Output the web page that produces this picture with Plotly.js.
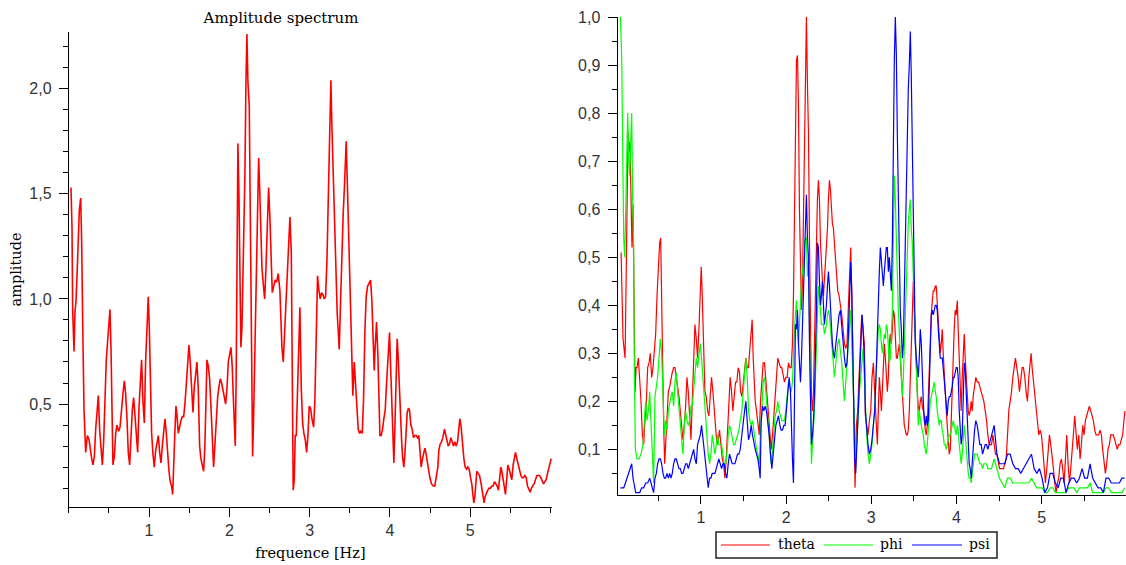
<!DOCTYPE html>
<html>
<head>
<meta charset="utf-8">
<script src="https://cdn.plot.ly/plotly-3.0.1.min.js"></script>
<style>html,body{margin:0;padding:0;background:#fff;}#chart{width:1126px;height:565px;}</style>
</head>
<body>
<div id="chart"></div>
<script>
// ---------- DATA (frequency [Hz], amplitude) ----------
const leftTitle = 'Amplitude spectrum';
const leftXLabel = 'frequence [Hz]';
const leftYLabel = 'amplitude';
const seriesNames = ['theta', 'phi', 'psi'];
const seriesColors = ['#ff0000', '#00ff00', '#0000ff'];
const xTicks = [1, 2, 3, 4, 5];
const leftYTicks = [0.5, 1.0, 1.5, 2.0];
const rightYTicks = [0.1, 0.2, 0.3, 0.4, 0.5, 0.6, 0.7, 0.8, 0.9, 1.0];

const leftSpectrum = [
[0.027,1.53],[0.040,1.34],[0.048,0.95],[0.065,0.75],[0.077,0.94],[0.090,0.99],[0.106,1.15],[0.119,1.29],[0.131,1.42],[0.148,1.48],
[0.160,1.28],[0.173,0.89],[0.189,0.48],[0.210,0.27],[0.231,0.35],[0.252,0.33],[0.268,0.28],[0.285,0.24],[0.301,0.21],[0.318,0.25],
[0.335,0.38],[0.351,0.48],[0.368,0.54],[0.384,0.38],[0.401,0.27],[0.418,0.21],[0.434,0.32],[0.451,0.54],[0.467,0.71],[0.484,0.80],
[0.501,0.89],[0.513,0.95],[0.526,0.76],[0.538,0.39],[0.550,0.21],[0.567,0.25],[0.584,0.36],[0.600,0.40],[0.621,0.37],[0.638,0.39],
[0.654,0.47],[0.675,0.55],[0.692,0.61],[0.708,0.55],[0.725,0.43],[0.741,0.27],[0.758,0.21],[0.775,0.35],[0.791,0.47],[0.808,0.53],
[0.824,0.45],[0.841,0.33],[0.858,0.27],[0.874,0.48],[0.891,0.63],[0.907,0.71],[0.924,0.51],[0.941,0.41],[0.957,0.70],[0.974,0.91],
[0.990,1.01],[1.003,0.86],[1.015,0.57],[1.032,0.36],[1.049,0.26],[1.065,0.20],[1.082,0.28],[1.098,0.32],[1.115,0.35],[1.132,0.27],
[1.148,0.22],[1.165,0.30],[1.181,0.36],[1.198,0.43],[1.215,0.36],[1.231,0.24],[1.248,0.18],[1.264,0.13],[1.281,0.11],[1.294,0.07],
[1.306,0.17],[1.323,0.38],[1.335,0.49],[1.347,0.45],[1.364,0.36],[1.381,0.40],[1.397,0.42],[1.414,0.44],[1.431,0.44],[1.447,0.50],
[1.464,0.61],[1.480,0.72],[1.497,0.78],[1.513,0.70],[1.530,0.54],[1.547,0.46],[1.563,0.58],[1.580,0.66],[1.597,0.70],[1.613,0.57],
[1.630,0.30],[1.646,0.24],[1.663,0.20],[1.680,0.18],[1.696,0.31],[1.709,0.58],[1.721,0.71],[1.738,0.68],[1.754,0.62],[1.771,0.49],
[1.787,0.30],[1.804,0.20],[1.821,0.31],[1.837,0.43],[1.854,0.53],[1.870,0.58],[1.887,0.62],[1.904,0.60],[1.920,0.57],[1.937,0.53],
[1.954,0.50],[1.970,0.57],[1.987,0.70],[2.020,0.77],[2.036,0.68],[2.049,0.54],[2.061,0.38],[2.074,0.30],[2.086,0.66],[2.095,1.38],
[2.107,1.74],[2.120,1.49],[2.132,1.01],[2.144,0.77],[2.157,0.86],[2.169,1.07],[2.182,1.27],[2.194,1.59],[2.207,2.03],[2.219,2.26],
[2.232,2.03],[2.248,1.92],[2.265,1.25],[2.278,0.58],[2.290,0.25],[2.302,0.43],[2.315,0.68],[2.331,1.08],[2.348,1.46],[2.365,1.67],
[2.377,1.54],[2.390,1.29],[2.406,1.15],[2.423,1.07],[2.440,1.00],[2.456,1.14],[2.473,1.39],[2.489,1.53],[2.506,1.38],[2.523,1.15],
[2.535,1.03],[2.552,1.06],[2.572,1.09],[2.589,1.08],[2.609,1.12],[2.630,1.04],[2.643,0.91],[2.655,0.77],[2.672,0.70],[2.689,0.84],
[2.705,0.96],[2.722,1.12],[2.739,1.31],[2.755,1.39],[2.772,1.22],[2.784,0.43],[2.796,0.09],[2.809,0.14],[2.821,0.35],[2.834,0.35],
[2.846,0.54],[2.863,0.82],[2.879,0.96],[2.896,0.58],[2.913,0.41],[2.929,0.36],[2.946,0.33],[2.963,0.27],[2.979,0.35],[2.996,0.49],
[3.012,0.48],[3.029,0.43],[3.050,0.39],[3.066,0.52],[3.083,0.92],[3.099,1.11],[3.116,1.04],[3.133,1.00],[3.149,1.03],[3.166,1.02],
[3.183,1.00],[3.199,1.01],[3.216,1.18],[3.232,1.50],[3.249,1.86],[3.265,2.04],[3.278,1.82],[3.294,1.60],[3.311,1.33],[3.328,1.03],
[3.344,0.93],[3.361,0.82],[3.369,0.76],[3.386,0.99],[3.402,1.21],[3.419,1.41],[3.436,1.55],[3.448,1.67],[3.456,1.75],[3.473,1.51],
[3.489,1.30],[3.506,0.99],[3.523,0.74],[3.539,0.54],[3.556,0.70],[3.573,0.60],[3.589,0.46],[3.606,0.38],[3.623,0.36],[3.639,0.37],
[3.656,0.36],[3.672,0.52],[3.689,0.85],[3.705,1.01],[3.722,1.06],[3.743,1.08],[3.760,1.09],[3.776,0.99],[3.793,0.77],[3.805,0.66],
[3.817,0.77],[3.834,0.89],[3.851,0.73],[3.863,0.49],[3.876,0.35],[3.892,0.35],[3.909,0.38],[3.925,0.43],[3.942,0.47],[3.959,0.60],
[3.979,0.72],[3.996,0.84],[4.004,0.74],[4.021,0.52],[4.034,0.33],[4.050,0.22],[4.062,0.38],[4.079,0.64],[4.091,0.81],[4.103,0.73],
[4.116,0.59],[4.133,0.43],[4.146,0.33],[4.158,0.25],[4.174,0.20],[4.187,0.26],[4.203,0.39],[4.216,0.46],[4.232,0.48],[4.245,0.47],
[4.262,0.40],[4.278,0.38],[4.295,0.34],[4.311,0.35],[4.328,0.35],[4.345,0.34],[4.361,0.35],[4.378,0.25],[4.390,0.20],[4.407,0.24],
[4.419,0.27],[4.436,0.29],[4.448,0.27],[4.465,0.22],[4.481,0.18],[4.498,0.15],[4.519,0.12],[4.540,0.11],[4.560,0.11],[4.581,0.15],
[4.598,0.20],[4.610,0.28],[4.627,0.31],[4.643,0.32],[4.660,0.34],[4.681,0.38],[4.694,0.36],[4.710,0.34],[4.727,0.30],[4.743,0.31],
[4.760,0.34],[4.776,0.32],[4.793,0.30],[4.810,0.32],[4.826,0.30],[4.843,0.32],[4.859,0.39],[4.872,0.43],[4.888,0.39],[4.905,0.29],
[4.922,0.24],[4.938,0.20],[4.955,0.19],[4.971,0.20],[4.988,0.19],[5.005,0.15],[5.021,0.12],[5.034,0.07],[5.046,0.03],[5.059,0.06],
[5.071,0.12],[5.083,0.18],[5.100,0.17],[5.117,0.16],[5.133,0.13],[5.150,0.08],[5.162,0.04],[5.174,0.03],[5.187,0.06],[5.204,0.08],
[5.220,0.09],[5.237,0.10],[5.254,0.10],[5.270,0.11],[5.287,0.11],[5.304,0.13],[5.320,0.12],[5.337,0.11],[5.353,0.09],[5.370,0.14],
[5.382,0.20],[5.395,0.18],[5.407,0.14],[5.424,0.11],[5.440,0.07],[5.457,0.14],[5.470,0.21],[5.486,0.19],[5.503,0.16],[5.519,0.14],
[5.536,0.21],[5.553,0.25],[5.565,0.27],[5.582,0.24],[5.598,0.21],[5.615,0.18],[5.632,0.16],[5.648,0.15],[5.665,0.15],[5.682,0.16],
[5.698,0.15],[5.715,0.11],[5.731,0.09],[5.748,0.08],[5.764,0.10],[5.781,0.11],[5.797,0.12],[5.814,0.14],[5.831,0.16],[5.847,0.16],
[5.864,0.16],[5.881,0.15],[5.897,0.13],[5.914,0.12],[5.931,0.13],[5.947,0.14],[5.964,0.17],[5.980,0.20],[5.997,0.23],[6.010,0.24]
];

const thetaSpectrum = [
[0.062,0.51],[0.073,0.40],[0.085,0.33],[0.109,0.29],[0.120,0.45],[0.132,0.67],[0.144,0.76],[0.156,0.72],[0.167,0.74],[0.179,0.62],
[0.190,0.52],[0.202,0.61],[0.214,0.31],[0.226,0.22],[0.238,0.27],[0.249,0.27],[0.265,0.29],[0.281,0.25],[0.296,0.20],[0.312,0.13],
[0.327,0.11],[0.343,0.16],[0.359,0.20],[0.374,0.27],[0.390,0.28],[0.405,0.30],[0.421,0.25],[0.437,0.27],[0.452,0.31],[0.468,0.34],
[0.484,0.42],[0.499,0.49],[0.515,0.53],[0.527,0.54],[0.538,0.39],[0.550,0.27],[0.562,0.15],[0.574,0.07],[0.585,0.11],[0.601,0.18],
[0.617,0.22],[0.632,0.23],[0.648,0.25],[0.663,0.26],[0.679,0.27],[0.695,0.27],[0.710,0.25],[0.726,0.23],[0.742,0.21],[0.757,0.18],
[0.773,0.14],[0.788,0.12],[0.804,0.15],[0.820,0.19],[0.835,0.25],[0.851,0.22],[0.867,0.17],[0.882,0.12],[0.898,0.20],[0.914,0.29],
[0.929,0.36],[0.945,0.33],[0.960,0.29],[0.976,0.35],[0.992,0.45],[1.003,0.48],[1.015,0.42],[1.031,0.29],[1.046,0.22],[1.062,0.21],
[1.078,0.18],[1.093,0.17],[1.109,0.21],[1.124,0.25],[1.140,0.22],[1.156,0.18],[1.171,0.13],[1.187,0.11],[1.203,0.12],[1.218,0.14],
[1.234,0.11],[1.250,0.08],[1.265,0.07],[1.281,0.04],[1.296,0.08],[1.312,0.13],[1.328,0.20],[1.343,0.25],[1.359,0.22],[1.374,0.18],
[1.390,0.21],[1.406,0.24],[1.421,0.24],[1.437,0.27],[1.453,0.26],[1.465,0.22],[1.480,0.21],[1.496,0.24],[1.512,0.27],[1.527,0.29],
[1.543,0.27],[1.558,0.27],[1.574,0.31],[1.590,0.34],[1.601,0.37],[1.613,0.29],[1.625,0.22],[1.637,0.20],[1.652,0.18],[1.668,0.16],
[1.684,0.13],[1.699,0.20],[1.715,0.25],[1.730,0.28],[1.746,0.28],[1.762,0.24],[1.777,0.20],[1.793,0.16],[1.809,0.13],[1.824,0.10],
[1.840,0.13],[1.855,0.17],[1.871,0.21],[1.887,0.27],[1.902,0.29],[1.918,0.28],[1.934,0.27],[1.949,0.27],[1.965,0.25],[1.980,0.24],
[1.996,0.25],[2.012,0.25],[2.027,0.28],[2.043,0.27],[2.059,0.27],[2.074,0.32],[2.086,0.42],[2.098,0.59],[2.109,0.81],[2.121,0.91],
[2.133,0.92],[2.145,0.81],[2.156,0.60],[2.168,0.46],[2.180,0.39],[2.192,0.45],[2.203,0.60],[2.215,0.68],[2.227,0.89],[2.238,1.00],
[2.250,0.86],[2.262,0.76],[2.274,0.53],[2.285,0.32],[2.297,0.21],[2.309,0.18],[2.321,0.22],[2.332,0.32],[2.344,0.43],[2.356,0.53],
[2.367,0.62],[2.379,0.66],[2.391,0.62],[2.403,0.53],[2.414,0.47],[2.426,0.45],[2.438,0.42],[2.449,0.45],[2.461,0.49],[2.473,0.52],
[2.485,0.56],[2.496,0.62],[2.508,0.66],[2.520,0.64],[2.532,0.60],[2.543,0.57],[2.555,0.56],[2.567,0.52],[2.578,0.49],[2.590,0.47],
[2.606,0.43],[2.621,0.42],[2.637,0.40],[2.653,0.38],[2.668,0.35],[2.684,0.32],[2.700,0.31],[2.715,0.32],[2.731,0.40],[2.746,0.46],
[2.758,0.52],[2.770,0.43],[2.782,0.32],[2.793,0.18],[2.801,0.11],[2.809,0.02],[2.825,0.15],[2.840,0.18],[2.856,0.25],[2.872,0.32],
[2.887,0.38],[2.903,0.35],[2.918,0.32],[2.930,0.17],[2.946,0.15],[2.961,0.13],[2.977,0.16],[2.993,0.18],[3.008,0.25],[3.024,0.28],
[3.039,0.22],[3.055,0.15],[3.071,0.11],[3.082,0.18],[3.094,0.25],[3.106,0.22],[3.118,0.18],[3.129,0.22],[3.141,0.28],[3.153,0.32],
[3.165,0.29],[3.176,0.25],[3.188,0.22],[3.200,0.25],[3.211,0.32],[3.223,0.34],[3.235,0.32],[3.247,0.35],[3.258,0.39],[3.270,0.38],
[3.282,0.32],[3.294,0.29],[3.305,0.29],[3.317,0.31],[3.329,0.32],[3.340,0.29],[3.352,0.25],[3.364,0.22],[3.376,0.18],[3.387,0.15],
[3.399,0.14],[3.411,0.13],[3.422,0.13],[3.434,0.14],[3.446,0.18],[3.458,0.25],[3.469,0.32],[3.481,0.39],[3.493,0.45],[3.505,0.39],
[3.516,0.32],[3.528,0.27],[3.540,0.22],[3.551,0.19],[3.563,0.18],[3.575,0.20],[3.587,0.21],[3.598,0.19],[3.610,0.18],[3.622,0.17],
[3.633,0.14],[3.645,0.13],[3.657,0.15],[3.669,0.22],[3.680,0.29],[3.692,0.36],[3.704,0.38],[3.716,0.41],[3.727,0.43],[3.739,0.43],
[3.751,0.44],[3.762,0.44],[3.774,0.40],[3.786,0.36],[3.798,0.32],[3.809,0.30],[3.821,0.32],[3.833,0.35],[3.844,0.30],[3.856,0.25],
[3.868,0.22],[3.880,0.18],[3.891,0.15],[3.903,0.11],[3.915,0.09],[3.927,0.10],[3.938,0.15],[3.950,0.22],[3.962,0.29],[3.973,0.35],
[3.985,0.39],[3.997,0.38],[4.009,0.41],[4.020,0.35],[4.032,0.29],[4.044,0.22],[4.055,0.18],[4.067,0.25],[4.079,0.30],[4.091,0.34],
[4.102,0.29],[4.114,0.25],[4.126,0.21],[4.138,0.18],[4.149,0.17],[4.161,0.18],[4.173,0.20],[4.184,0.18],[4.196,0.21],[4.212,0.23],
[4.227,0.25],[4.243,0.24],[4.259,0.24],[4.274,0.23],[4.290,0.22],[4.306,0.21],[4.321,0.20],[4.337,0.18],[4.353,0.16],[4.368,0.13],
[4.384,0.11],[4.411,0.11],[4.427,0.13],[4.442,0.11],[4.458,0.09],[4.474,0.09],[4.489,0.07],[4.505,0.06],[4.520,0.06],[4.536,0.06],
[4.552,0.06],[4.567,0.07],[4.583,0.08],[4.599,0.13],[4.614,0.18],[4.630,0.20],[4.646,0.22],[4.661,0.25],[4.677,0.27],[4.692,0.29],
[4.708,0.27],[4.724,0.25],[4.739,0.22],[4.755,0.25],[4.771,0.27],[4.786,0.27],[4.802,0.25],[4.817,0.22],[4.833,0.20],[4.849,0.25],
[4.864,0.28],[4.876,0.30],[4.888,0.27],[4.903,0.24],[4.919,0.21],[4.935,0.18],[4.950,0.15],[4.966,0.13],[4.982,0.14],[4.997,0.13],
[5.013,0.10],[5.028,0.06],[5.044,0.03],[5.060,0.06],[5.075,0.09],[5.091,0.13],[5.107,0.11],[5.122,0.09],[5.138,0.06],[5.154,0.03],
[5.169,0.01],[5.185,0.03],[5.200,0.04],[5.216,0.07],[5.232,0.08],[5.247,0.06],[5.263,0.03],[5.279,0.08],[5.294,0.13],[5.310,0.07],
[5.326,0.03],[5.341,0.06],[5.357,0.09],[5.372,0.13],[5.388,0.17],[5.404,0.14],[5.419,0.10],[5.435,0.13],[5.451,0.08],[5.466,0.11],
[5.482,0.15],[5.497,0.13],[5.513,0.16],[5.529,0.17],[5.544,0.18],[5.560,0.19],[5.576,0.18],[5.591,0.17],[5.607,0.16],[5.623,0.14],
[5.638,0.13],[5.654,0.13],[5.670,0.13],[5.685,0.14],[5.701,0.13],[5.716,0.10],[5.732,0.07],[5.748,0.05],[5.763,0.07],[5.779,0.10],
[5.795,0.11],[5.810,0.13],[5.826,0.13],[5.841,0.13],[5.857,0.12],[5.873,0.11],[5.888,0.10],[5.904,0.11],[5.919,0.11],[5.935,0.12],
[5.951,0.13],[5.966,0.16],[5.978,0.18]
];

const phiSpectrum = [
[0.054,1.00],[0.070,0.91],[0.081,0.72],[0.093,0.54],[0.105,0.50],[0.116,0.58],[0.128,0.65],[0.140,0.80],[0.152,0.70],[0.163,0.67],
[0.175,0.74],[0.187,0.80],[0.198,0.62],[0.210,0.52],[0.218,0.26],[0.230,0.10],[0.249,0.08],[0.273,0.08],[0.296,0.09],[0.320,0.11],
[0.335,0.16],[0.351,0.20],[0.366,0.16],[0.382,0.18],[0.398,0.22],[0.413,0.16],[0.429,0.11],[0.444,0.03],[0.460,0.21],[0.476,0.23],
[0.491,0.25],[0.507,0.29],[0.523,0.33],[0.538,0.30],[0.554,0.22],[0.570,0.13],[0.585,0.16],[0.601,0.14],[0.617,0.18],[0.632,0.20],
[0.648,0.21],[0.663,0.22],[0.679,0.19],[0.695,0.24],[0.710,0.26],[0.726,0.22],[0.742,0.19],[0.757,0.16],[0.773,0.13],[0.788,0.09],
[0.804,0.15],[0.820,0.18],[0.835,0.16],[0.851,0.15],[0.867,0.16],[0.882,0.19],[0.898,0.19],[0.914,0.23],[0.929,0.26],[0.945,0.29],
[0.960,0.27],[0.976,0.30],[0.992,0.32],[1.007,0.29],[1.023,0.25],[1.039,0.20],[1.054,0.16],[1.070,0.13],[1.085,0.09],[1.101,0.07],
[1.117,0.09],[1.132,0.13],[1.148,0.11],[1.164,0.09],[1.179,0.11],[1.195,0.13],[1.210,0.11],[1.226,0.11],[1.242,0.11],[1.257,0.09],
[1.273,0.07],[1.289,0.07],[1.304,0.09],[1.320,0.13],[1.335,0.15],[1.351,0.14],[1.367,0.12],[1.382,0.11],[1.398,0.11],[1.414,0.12],
[1.429,0.13],[1.445,0.14],[1.461,0.16],[1.480,0.18],[1.496,0.22],[1.512,0.25],[1.527,0.29],[1.543,0.25],[1.558,0.18],[1.574,0.16],
[1.590,0.15],[1.605,0.16],[1.621,0.14],[1.637,0.11],[1.652,0.10],[1.668,0.09],[1.684,0.07],[1.699,0.14],[1.715,0.18],[1.730,0.24],
[1.746,0.25],[1.762,0.22],[1.777,0.18],[1.793,0.16],[1.809,0.11],[1.824,0.07],[1.840,0.10],[1.855,0.13],[1.871,0.17],[1.887,0.18],
[1.902,0.20],[1.918,0.18],[1.934,0.17],[1.949,0.16],[1.965,0.16],[1.980,0.16],[1.996,0.18],[2.012,0.22],[2.027,0.24],[2.043,0.23],
[2.059,0.22],[2.074,0.24],[2.086,0.32],[2.098,0.35],[2.109,0.38],[2.121,0.41],[2.133,0.36],[2.145,0.32],[2.156,0.36],[2.168,0.43],
[2.180,0.45],[2.192,0.47],[2.203,0.49],[2.215,0.53],[2.227,0.54],[2.238,0.54],[2.250,0.46],[2.262,0.49],[2.274,0.32],[2.285,0.18],
[2.297,0.07],[2.309,0.11],[2.321,0.15],[2.332,0.18],[2.344,0.25],[2.356,0.32],[2.367,0.39],[2.379,0.44],[2.391,0.42],[2.403,0.38],
[2.414,0.36],[2.426,0.36],[2.438,0.36],[2.449,0.34],[2.461,0.35],[2.473,0.36],[2.485,0.38],[2.496,0.39],[2.508,0.38],[2.520,0.35],
[2.532,0.32],[2.543,0.29],[2.555,0.27],[2.567,0.25],[2.578,0.27],[2.590,0.29],[2.606,0.32],[2.621,0.33],[2.637,0.31],[2.653,0.28],
[2.668,0.24],[2.684,0.20],[2.700,0.24],[2.715,0.28],[2.731,0.32],[2.746,0.38],[2.758,0.39],[2.770,0.32],[2.782,0.25],[2.793,0.18],
[2.805,0.13],[2.817,0.08],[2.829,0.11],[2.844,0.17],[2.860,0.22],[2.876,0.25],[2.891,0.28],[2.903,0.31],[2.918,0.25],[2.930,0.18],
[2.946,0.13],[2.961,0.09],[2.977,0.07],[2.993,0.09],[3.008,0.11],[3.024,0.15],[3.039,0.18],[3.055,0.25],[3.071,0.32],[3.082,0.35],
[3.094,0.36],[3.106,0.35],[3.118,0.32],[3.129,0.30],[3.141,0.32],[3.153,0.34],[3.165,0.33],[3.176,0.36],[3.188,0.35],[3.200,0.32],
[3.211,0.28],[3.223,0.29],[3.235,0.35],[3.247,0.39],[3.258,0.53],[3.270,0.67],[3.282,0.62],[3.294,0.53],[3.305,0.46],[3.317,0.39],
[3.329,0.34],[3.340,0.29],[3.352,0.25],[3.364,0.21],[3.376,0.25],[3.387,0.32],[3.399,0.39],[3.411,0.46],[3.422,0.53],[3.434,0.57],
[3.446,0.60],[3.458,0.62],[3.469,0.56],[3.481,0.53],[3.493,0.46],[3.505,0.39],[3.516,0.32],[3.528,0.25],[3.540,0.20],[3.551,0.15],
[3.563,0.18],[3.575,0.16],[3.587,0.15],[3.598,0.14],[3.610,0.13],[3.622,0.11],[3.633,0.10],[3.645,0.09],[3.657,0.11],[3.669,0.15],
[3.680,0.18],[3.692,0.20],[3.704,0.21],[3.716,0.22],[3.727,0.23],[3.739,0.24],[3.751,0.22],[3.762,0.21],[3.774,0.18],[3.786,0.16],
[3.798,0.15],[3.809,0.16],[3.821,0.16],[3.833,0.14],[3.844,0.13],[3.856,0.11],[3.868,0.11],[3.880,0.10],[3.891,0.11],[3.903,0.12],
[3.915,0.13],[3.927,0.13],[3.938,0.14],[3.950,0.15],[3.962,0.16],[3.973,0.15],[3.985,0.14],[3.997,0.13],[4.009,0.15],[4.020,0.14],
[4.032,0.11],[4.044,0.09],[4.055,0.07],[4.067,0.09],[4.079,0.13],[4.091,0.15],[4.102,0.13],[4.114,0.10],[4.126,0.07],[4.138,0.05],
[4.149,0.04],[4.161,0.04],[4.173,0.03],[4.184,0.05],[4.196,0.07],[4.212,0.09],[4.227,0.09],[4.243,0.09],[4.259,0.08],[4.274,0.07],
[4.290,0.07],[4.306,0.06],[4.321,0.07],[4.337,0.07],[4.353,0.07],[4.368,0.06],[4.384,0.06],[4.411,0.06],[4.442,0.08],[4.474,0.06],
[4.505,0.04],[4.536,0.03],[4.567,0.02],[4.599,0.04],[4.630,0.04],[4.661,0.03],[4.692,0.03],[4.724,0.03],[4.755,0.03],[4.786,0.03],
[4.817,0.03],[4.849,0.03],[4.880,0.04],[4.911,0.03],[4.943,0.02],[4.974,0.02],[5.005,0.02],[5.036,0.01],[5.068,0.01],[5.099,0.02],
[5.130,0.02],[5.161,0.01],[5.193,0.01],[5.224,0.01],[5.255,0.01],[5.286,0.01],[5.318,0.02],[5.349,0.02],[5.380,0.02],[5.411,0.01],
[5.443,0.02],[5.474,0.02],[5.505,0.02],[5.537,0.02],[5.568,0.03],[5.599,0.01],[5.630,0.01],[5.662,0.01],[5.693,0.01],[5.724,0.01],
[5.755,0.02],[5.787,0.02],[5.818,0.01],[5.849,0.01],[5.880,0.01],[5.912,0.01],[5.943,0.01],[5.974,0.02]
];

const psiSpectrum = [
[0.054,0.02],[0.073,0.02],[0.093,0.02],[0.113,0.03],[0.132,0.04],[0.152,0.05],[0.171,0.06],[0.187,0.07],[0.202,0.04],[0.218,0.02],
[0.234,0.01],[0.257,0.01],[0.281,0.01],[0.304,0.02],[0.327,0.02],[0.351,0.03],[0.374,0.03],[0.398,0.04],[0.413,0.03],[0.429,0.02],
[0.444,0.01],[0.460,0.04],[0.476,0.05],[0.491,0.07],[0.507,0.08],[0.523,0.08],[0.538,0.07],[0.554,0.05],[0.570,0.04],[0.585,0.04],
[0.601,0.05],[0.617,0.04],[0.632,0.05],[0.648,0.04],[0.663,0.05],[0.679,0.07],[0.695,0.08],[0.710,0.08],[0.726,0.07],[0.742,0.06],
[0.757,0.06],[0.773,0.05],[0.788,0.05],[0.804,0.06],[0.820,0.07],[0.835,0.07],[0.851,0.06],[0.867,0.07],[0.882,0.08],[0.898,0.09],
[0.914,0.10],[0.929,0.08],[0.945,0.07],[0.960,0.11],[0.976,0.12],[0.992,0.13],[1.007,0.15],[1.023,0.12],[1.039,0.09],[1.054,0.07],
[1.070,0.04],[1.085,0.02],[1.101,0.04],[1.117,0.04],[1.132,0.05],[1.148,0.05],[1.164,0.05],[1.179,0.06],[1.195,0.07],[1.210,0.08],
[1.226,0.07],[1.242,0.06],[1.257,0.07],[1.273,0.07],[1.289,0.05],[1.304,0.04],[1.320,0.07],[1.335,0.09],[1.351,0.08],[1.367,0.07],
[1.382,0.07],[1.398,0.07],[1.414,0.08],[1.429,0.09],[1.445,0.09],[1.461,0.10],[1.480,0.13],[1.496,0.16],[1.512,0.18],[1.527,0.20],
[1.543,0.16],[1.558,0.12],[1.574,0.13],[1.590,0.15],[1.605,0.13],[1.621,0.11],[1.637,0.10],[1.652,0.09],[1.668,0.08],[1.684,0.06],
[1.695,0.04],[1.707,0.16],[1.723,0.19],[1.738,0.18],[1.754,0.19],[1.769,0.18],[1.785,0.16],[1.801,0.13],[1.816,0.09],[1.832,0.06],
[1.848,0.09],[1.863,0.13],[1.879,0.15],[1.895,0.16],[1.910,0.17],[1.926,0.15],[1.941,0.14],[1.957,0.14],[1.973,0.15],[1.988,0.15],
[2.004,0.18],[2.020,0.22],[2.035,0.25],[2.051,0.22],[2.063,0.11],[2.074,0.08],[2.086,0.03],[2.098,0.22],[2.109,0.36],[2.121,0.35],
[2.133,0.39],[2.145,0.32],[2.156,0.29],[2.168,0.24],[2.180,0.29],[2.192,0.36],[2.203,0.46],[2.215,0.53],[2.227,0.57],[2.238,0.63],
[2.250,0.54],[2.262,0.50],[2.274,0.32],[2.285,0.16],[2.297,0.11],[2.309,0.13],[2.321,0.16],[2.332,0.21],[2.344,0.28],[2.356,0.39],
[2.367,0.53],[2.379,0.52],[2.391,0.45],[2.403,0.40],[2.414,0.42],[2.426,0.45],[2.438,0.40],[2.449,0.36],[2.461,0.38],[2.473,0.40],
[2.485,0.44],[2.496,0.47],[2.508,0.44],[2.520,0.39],[2.532,0.35],[2.543,0.32],[2.555,0.30],[2.567,0.29],[2.578,0.31],[2.590,0.33],
[2.606,0.35],[2.621,0.38],[2.637,0.39],[2.653,0.35],[2.668,0.32],[2.684,0.29],[2.700,0.27],[2.715,0.28],[2.731,0.34],[2.746,0.42],
[2.758,0.49],[2.770,0.43],[2.782,0.32],[2.793,0.18],[2.805,0.08],[2.817,0.05],[2.829,0.11],[2.844,0.18],[2.860,0.25],[2.876,0.32],
[2.891,0.38],[2.903,0.35],[2.918,0.29],[2.930,0.18],[2.946,0.14],[2.961,0.11],[2.977,0.09],[2.993,0.10],[3.008,0.12],[3.024,0.15],
[3.039,0.18],[3.055,0.25],[3.071,0.35],[3.082,0.43],[3.094,0.47],[3.106,0.52],[3.118,0.49],[3.129,0.46],[3.141,0.44],[3.153,0.47],
[3.165,0.49],[3.176,0.52],[3.188,0.52],[3.200,0.47],[3.211,0.50],[3.223,0.46],[3.235,0.43],[3.247,0.53],[3.258,0.74],[3.270,0.91],
[3.282,1.00],[3.294,0.92],[3.305,0.76],[3.317,0.60],[3.329,0.46],[3.340,0.39],[3.352,0.35],[3.364,0.29],[3.376,0.32],[3.387,0.43],
[3.399,0.53],[3.411,0.67],[3.422,0.77],[3.434,0.85],[3.446,0.90],[3.458,0.97],[3.469,0.88],[3.481,0.71],[3.493,0.53],[3.505,0.39],
[3.516,0.32],[3.528,0.29],[3.540,0.27],[3.551,0.25],[3.563,0.29],[3.575,0.35],[3.587,0.32],[3.598,0.25],[3.610,0.20],[3.622,0.16],
[3.633,0.15],[3.645,0.17],[3.657,0.15],[3.669,0.16],[3.680,0.25],[3.692,0.32],[3.704,0.38],[3.716,0.39],[3.727,0.38],[3.739,0.39],
[3.751,0.40],[3.762,0.40],[3.774,0.39],[3.786,0.35],[3.798,0.30],[3.809,0.29],[3.821,0.29],[3.833,0.29],[3.844,0.27],[3.856,0.24],
[3.868,0.21],[3.880,0.18],[3.891,0.17],[3.903,0.20],[3.915,0.21],[3.927,0.21],[3.938,0.22],[3.950,0.23],[3.962,0.25],[3.973,0.25],
[3.985,0.26],[3.997,0.27],[4.009,0.27],[4.020,0.25],[4.032,0.18],[4.044,0.13],[4.055,0.11],[4.067,0.13],[4.079,0.22],[4.091,0.28],
[4.102,0.27],[4.114,0.22],[4.126,0.15],[4.138,0.10],[4.149,0.07],[4.161,0.06],[4.173,0.04],[4.184,0.07],[4.196,0.11],[4.212,0.14],
[4.227,0.16],[4.243,0.15],[4.259,0.13],[4.274,0.11],[4.290,0.11],[4.306,0.09],[4.321,0.10],[4.337,0.11],[4.353,0.11],[4.368,0.10],
[4.384,0.11],[4.411,0.13],[4.442,0.15],[4.474,0.09],[4.505,0.07],[4.536,0.07],[4.567,0.07],[4.599,0.09],[4.630,0.09],[4.661,0.07],
[4.692,0.06],[4.724,0.06],[4.755,0.05],[4.786,0.06],[4.817,0.07],[4.849,0.08],[4.880,0.09],[4.911,0.06],[4.943,0.05],[4.974,0.06],
[5.005,0.04],[5.036,0.01],[5.068,0.02],[5.099,0.05],[5.130,0.05],[5.161,0.03],[5.193,0.02],[5.224,0.04],[5.255,0.04],[5.286,0.01],
[5.318,0.03],[5.349,0.04],[5.380,0.04],[5.411,0.03],[5.443,0.04],[5.474,0.06],[5.505,0.04],[5.537,0.04],[5.568,0.07],[5.599,0.04],
[5.630,0.03],[5.662,0.02],[5.693,0.02],[5.724,0.01],[5.755,0.04],[5.787,0.04],[5.818,0.03],[5.849,0.03],[5.880,0.03],[5.912,0.03],
[5.943,0.04],[5.974,0.04]
];

// ---------- PLOT ----------
const W = 1126, H = 565;
const px = v => v / W;           // layout helper: pixel -> paper (x)
const py = v => 1 - v / H;       // layout helper: pixel -> paper (y)

const tickFont = {family: 'Liberation Sans Narrow, Liberation Sans, Arial, sans-serif', size: 16, color: '#333'};
const serif = 'DejaVu Serif, Liberation Serif, serif';

function axisBase(extra) {
  return Object.assign({
    showline: true, linecolor: '#000', linewidth: 1,
    showgrid: false, zeroline: false,
    ticks: 'outside', tickcolor: '#000', tickwidth: 1,
    tickfont: tickFont, fixedrange: true
  }, extra);
}

const rightSeries = [thetaSpectrum, phiSpectrum, psiSpectrum];

const traces = [{
  type: 'scatter', mode: 'lines',
  x: leftSpectrum.map(p => p[0]), y: leftSpectrum.map(p => p[1]),
  line: {color: seriesColors[0], width: 1.6},
  xaxis: 'x', yaxis: 'y', name: leftYLabel, showlegend: false
}].concat(rightSeries.map((s, i) => ({
  type: 'scatter', mode: 'lines',
  x: s.map(p => p[0]), y: s.map(p => p[1]),
  line: {color: seriesColors[i], width: 1.2},
  xaxis: 'x2', yaxis: 'y2', name: seriesNames[i], showlegend: false
})));

// custom legend (Maple style box) below right panel
const legendItems = [
  {l0: 721, l1: 770, t: 776},
  {l0: 824, l1: 873, t: 878},
  {l0: 912, l1: 962, t: 967}
];
const legendY = 545;
const shapes = [{
  type: 'rect', xref: 'paper', yref: 'paper',
  x0: px(716), x1: px(997), y0: py(558), y1: py(532),
  line: {color: '#222', width: 1.5}, fillcolor: 'rgba(0,0,0,0)'
}].concat(legendItems.map((it, i) => ({
  type: 'line', xref: 'paper', yref: 'paper',
  x0: px(it.l0), x1: px(it.l1), y0: py(legendY), y1: py(legendY),
  line: {color: seriesColors[i], width: 1.2}
})));
const annotations = legendItems.map((it, i) => ({
  xref: 'paper', yref: 'paper', x: px(it.t), y: py(legendY - 1),
  xanchor: 'left', yanchor: 'middle', showarrow: false,
  text: seriesNames[i], font: {family: serif, size: 14, color: '#000'}
}));

const layout = {
  width: W, height: H,
  margin: {l: 0, r: 0, t: 0, b: 0},
  paper_bgcolor: '#fff', plot_bgcolor: '#fff',
  separators: ', ',
  showlegend: false,
  title: {
    text: leftTitle, x: px(281), xanchor: 'center', xref: 'paper',
    y: py(18), yanchor: 'middle', yref: 'paper',
    font: {family: serif, size: 15, color: '#000'}
  },
  xaxis: axisBase({
    domain: [px(68.8), px(552)], range: [0, 6.02], anchor: 'y',
    tickvals: xTicks, tickformat: 'd', ticklen: 9,
    minor: {dtick: 0.5, tick0: 0, ticks: 'outside', ticklen: 5, tickcolor: '#000'},
    title: {text: leftXLabel, font: {family: serif, size: 14.5, color: '#000'}, standoff: 9}
  }),
  yaxis: axisBase({
    domain: [py(507), py(32)], range: [0.01, 2.27], anchor: 'x',
    tickvals: leftYTicks, tickformat: '.1f', ticklen: 9, ticklabelstandoff: 4,
    minor: {dtick: 0.1, tick0: 0, ticks: 'outside', ticklen: 5, tickcolor: '#000'},
    title: {text: leftYLabel, font: {family: serif, size: 14.5, color: '#000'}, standoff: 4}
  }),
  xaxis2: axisBase({
    domain: [px(617.5), 1], range: [0.02, 5.99], anchor: 'y2',
    tickvals: xTicks, tickformat: 'd', ticklen: 8,
    minor: {dtick: 0.5, tick0: 0, ticks: 'outside', ticklen: 5, tickcolor: '#000'}
  }),
  yaxis2: axisBase({
    domain: [py(495), py(17)], range: [0.005, 1.0], anchor: 'x2',
    tickvals: rightYTicks, tickformat: '.1f', ticklen: 9, ticklabelstandoff: 4,
    minor: {dtick: 0.05, tick0: 0, ticks: 'outside', ticklen: 5, tickcolor: '#000'}
  }),
  shapes: shapes,
  annotations: annotations
};

Plotly.newPlot('chart', traces, layout, {staticPlot: true, displayModeBar: false});
</script>
</body>
</html>
